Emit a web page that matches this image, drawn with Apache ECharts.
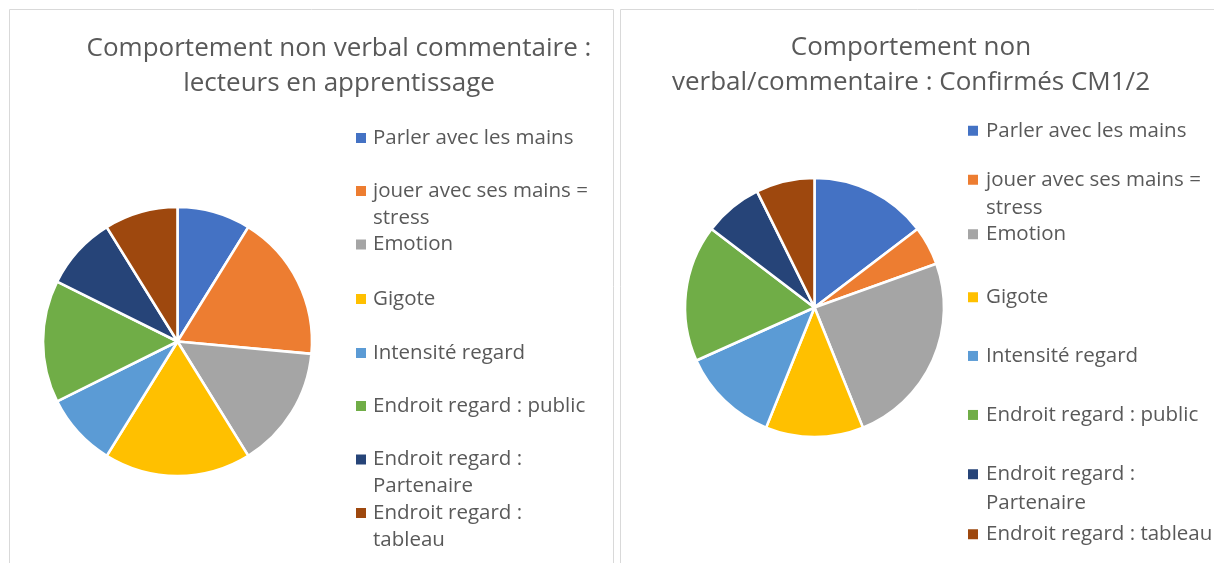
<!DOCTYPE html>
<html>
<head>
<meta charset="utf-8">
<title>Comportement non verbal</title>
<script src="https://cdn.jsdelivr.net/npm/echarts@6/dist/echarts.min.js"></script>
<style>
  html, body { margin: 0; padding: 0; background: #fff; }
  #chart { width: 1214px; height: 563px; }
</style>
</head>
<body>
<div id="chart"></div>
<script>
// Categories of non-verbal behaviour (shared by both pies)
const categories = [
  'Parler avec les mains',
  'jouer avec ses mains = stress',
  'Emotion',
  'Gigote',
  'Intensité regard',
  'Endroit regard : public',
  'Endroit regard : Partenaire',
  'Endroit regard : tableau'
];

// Counts per category
const valuesApprentissage = [3, 6, 5, 6, 3, 5, 3, 3];
const valuesConfirmes = [6, 2, 10, 5, 5, 7, 3, 3];

// Chart titles
const titleApprentissage = 'Comportement non verbal commentaire :\nlecteurs en apprentissage';
const titleConfirmes = 'Comportement non\nverbal/commentaire : Confirmés CM1/2';

// Office palette
const colors = ['#4472C4', '#ED7D31', '#A5A5A5', '#FFC000', '#5B9BD5', '#70AD47', '#264478', '#9E480E'];

const FONT = '"Open Sans", "Noto Sans", sans-serif';
const TEXT_COLOR = '#595959';
const MARKER = 10;

// Greedy word wrap by character count
function wrap(text, maxChars) {
  const words = text.split(' ');
  const lines = [];
  let cur = '';
  words.forEach(w => {
    const next = cur ? cur + ' ' + w : w;
    if (next.length > maxChars && cur) {
      lines.push(cur);
      cur = w;
    } else {
      cur = next;
    }
  });
  if (cur) lines.push(cur);
  return lines;
}

// One legend entry per category so each row sits at its own height
function buildLegends(cfg) {
  const base = { fontFamily: FONT, fontSize: cfg.fontSize, color: TEXT_COLOR, lineHeight: cfg.lineHeight };
  const rich = {
    t: Object.assign({}, base, { padding: [0, 0, 0, cfg.textGap] }),
    u: Object.assign({}, base, { padding: [0, 0, 0, cfg.textGap + MARKER] })
  };
  colors.forEach((c, i) => {
    rich['m' + i] = { width: MARKER, height: MARKER, backgroundColor: c, lineHeight: cfg.lineHeight };
  });
  return categories.map((name, i) => ({
    left: cfg.left,
    top: cfg.rowCenters[i] - cfg.lineHeight / 2 + 5,
    orient: 'vertical',
    padding: 0,
    icon: 'none',
    itemWidth: 0,
    itemHeight: 0,
    selectedMode: false,
    data: [name],
    formatter: n => wrap(n, cfg.maxChars)
      .map((ln, k) => (k === 0 ? '{m' + i + '|}{t|' + ln + '}' : '{u|' + ln + '}'))
      .join('\n'),
    textStyle: { rich: rich }
  }));
}

function pieSeries(values, center, radius) {
  return {
    type: 'pie',
    center: center,
    radius: radius,
    startAngle: 90,
    clockwise: true,
    avoidLabelOverlap: false,
    label: { show: false },
    labelLine: { show: false },
    emphasis: { disabled: true },
    itemStyle: { borderColor: '#ffffff', borderWidth: 2.6 },
    data: categories.map((name, i) => ({ name: name, value: values[i], itemStyle: { color: colors[i] } }))
  };
}

const chart = echarts.init(document.getElementById('chart'), null, { renderer: 'canvas' });

const legends = [].concat(
  buildLegends({
    left: 351, fontSize: 20.5, lineHeight: 27, textGap: 7, maxChars: 23,
    rowCenters: [136, 189, 242.5, 297, 351, 404, 457.5, 511]
  }),
  buildLegends({
    left: 963, fontSize: 20.5, lineHeight: 28.5, textGap: 8, maxChars: 25,
    rowCenters: [129.5, 178.5, 233, 296, 354.7, 413.7, 473, 533]
  })
);

const titleStyle = { fontFamily: FONT, fontSize: 26, fontWeight: 'normal', color: TEXT_COLOR, lineHeight: 35 };

chart.setOption({
  animation: false,
  color: colors,
  title: [
    { text: titleApprentissage, left: 339, top: 31, textAlign: 'center', padding: 0, textStyle: titleStyle },
    { text: titleConfirmes, left: 911, top: 30, textAlign: 'center', padding: 0, textStyle: titleStyle }
  ],
  legend: legends,
  graphic: [
    { type: 'rect', shape: { x: 9.5, y: 9.5, width: 604, height: 620 }, style: { fill: 'none', stroke: '#D9D9D9', lineWidth: 1 }, silent: true },
    { type: 'rect', shape: { x: 620.5, y: 9.5, width: 620, height: 620 }, style: { fill: 'none', stroke: '#D9D9D9', lineWidth: 1 }, silent: true }
  ],
  series: [
    pieSeries(valuesApprentissage, [177.5, 341.5], 134.5),
    pieSeries(valuesConfirmes, [814.5, 307.5], 129.5)
  ]
});
</script>
</body>
</html>
